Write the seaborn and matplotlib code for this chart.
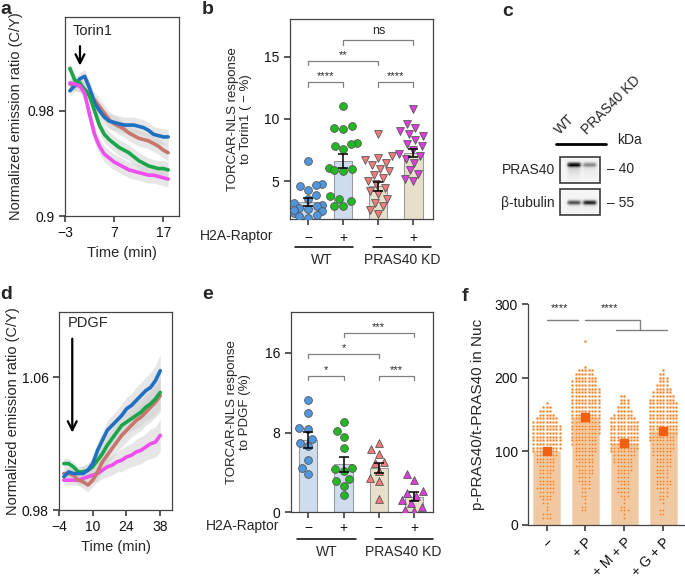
import numpy as np
import pandas as pd
import seaborn as sns
import matplotlib.pyplot as plt
from matplotlib.patches import Rectangle

sns.set_theme(style="ticks")
plt.rcParams['font.family'] = ['Liberation Sans', 'DejaVu Sans']
plt.rcParams['font.size'] = 10
plt.rcParams['axes.edgecolor'] = '#444444'
plt.rcParams['axes.linewidth'] = 0.9
plt.rcParams['xtick.color'] = '#444444'
plt.rcParams['ytick.color'] = '#444444'
plt.rcParams['xtick.labelcolor'] = '#111111'
plt.rcParams['ytick.labelcolor'] = '#111111'
plt.rcParams['xtick.major.size'] = 4
plt.rcParams['ytick.major.size'] = 4
plt.rcParams['xtick.labelsize'] = 10
plt.rcParams['ytick.labelsize'] = 10

C_BLUE, C_GREEN, C_RED, C_MAG = '#1f6fc2', '#1aa54a', '#c8766b', '#ee4fee'

# a) Torin1 time course
a_time = [-2, -1, 0, 1, 2, 3, 4, 5, 6, 7, 8, 9, 10, 11, 12, 13, 14, 15, 16, 17, 18]
a_blue = [0.995, 0.999, 1.004, 1.006, 0.997, 0.986, 0.980, 0.975, 0.972, 0.971, 0.970,
          0.969, 0.969, 0.969, 0.968, 0.967, 0.965, 0.962, 0.961, 0.960, 0.960]
a_red = [1.000, 0.999, 0.999, 0.996, 0.993, 0.988, 0.983, 0.978, 0.973, 0.970, 0.968,
         0.966, 0.963, 0.961, 0.959, 0.958, 0.957, 0.955, 0.953, 0.950, 0.948]
a_green = [1.012, 1.003, 1.001, 0.996, 0.991, 0.980, 0.969, 0.962, 0.958, 0.955, 0.952,
           0.950, 0.948, 0.945, 0.942, 0.940, 0.938, 0.937, 0.936, 0.936, 0.935]
a_mag = [1.001, 1.000, 0.999, 0.993, 0.977, 0.962, 0.953, 0.947, 0.944, 0.941, 0.939,
         0.937, 0.935, 0.934, 0.933, 0.932, 0.931, 0.931, 0.930, 0.929, 0.928]
a_sem = [0.004, 0.004, 0.005, 0.005, 0.005, 0.006, 0.006, 0.006, 0.006, 0.006, 0.006,
         0.006, 0.006, 0.006, 0.006, 0.006, 0.006, 0.006, 0.006, 0.006, 0.006]

# d) PDGF time course
d_time = [-2, 0, 2, 4, 6, 8, 10, 12, 14, 16, 18, 20, 22, 24, 26, 28, 30, 32, 34, 36, 38]
d_blue = [1.000, 1.003, 1.002, 1.002, 1.002, 1.004, 1.008, 1.016, 1.022, 1.028, 1.031,
          1.034, 1.037, 1.041, 1.043, 1.046, 1.049, 1.052, 1.054, 1.058, 1.064]
d_green = [1.008, 1.008, 1.006, 1.003, 1.003, 1.004, 1.006, 1.010, 1.014, 1.019, 1.023,
           1.027, 1.031, 1.033, 1.035, 1.037, 1.039, 1.042, 1.044, 1.047, 1.051]
d_red = [1.002, 1.002, 1.001, 0.998, 0.997, 0.995, 0.998, 1.003, 1.009, 1.013, 1.017,
         1.021, 1.025, 1.028, 1.031, 1.034, 1.036, 1.039, 1.042, 1.045, 1.049]
d_mag = [0.998, 0.998, 0.998, 0.998, 0.999, 1.000, 1.001, 1.002, 1.004, 1.006, 1.007,
         1.009, 1.010, 1.012, 1.013, 1.015, 1.016, 1.018, 1.020, 1.021, 1.025]
d_sem = [0.003, 0.003, 0.003, 0.003, 0.004, 0.004, 0.004, 0.005, 0.005, 0.006, 0.006,
         0.006, 0.007, 0.007, 0.007, 0.008, 0.008, 0.008, 0.009, 0.009, 0.010]

# b) / e) bar + dot panels
conds = ['WT -', 'WT +', 'KD -', 'KD +']
tick_signs = ['\u2212', '+', '\u2212', '+']
bar_cols = ['#c9ddf3', '#c9ddf3', '#ebe3c6', '#ebe3c6']
dot_cols = ['#4f97e0', '#21b821', '#f37b7b', '#e03ce0']

b_pts = [[6.6, 4.8, 4.7, 4.6, 4.3, 3.9, 3.6, 3.3, 3.1, 3.0, 2.9, 2.8, 2.6, 2.5, 2.3, 2.1, 2.2, 2.7],
         [11.0, 9.4, 9.3, 9.2, 8.1, 8.0, 7.8, 7.6, 6.1, 6.0, 5.9, 5.8, 3.8, 3.6, 3.4, 3.0, 3.0],
         [8.8, 7.0, 6.9, 6.7, 6.5, 6.3, 6.0, 5.8, 5.5, 5.3, 5.0, 4.8, 4.5, 4.2, 4.0, 3.6, 3.3, 3.0, 2.7, 2.4],
         [10.8, 9.6, 9.3, 9.0, 8.8, 8.6, 8.3, 8.0, 7.8, 7.5, 7.2, 7.0, 6.8, 6.5, 5.9, 5.6, 5.2, 5.0]]
b_means = [3.35, 6.65, 4.6, 7.27]
b_sem = [0.3, 0.55, 0.35, 0.35]

e_pts = [[11.3, 10.0, 8.5, 8.4, 7.4, 7.0, 6.6, 5.2, 4.4, 3.8],
         [9.1, 8.2, 7.6, 6.4, 4.4, 4.3, 4.1, 3.3, 3.1, 2.6, 1.7],
         [7.0, 6.3, 5.8, 5.0, 4.9, 4.1, 3.4, 3.1, 1.3],
         [3.8, 3.2, 2.1, 1.9, 1.6, 1.2, 0.9, 0.5, 0.2, 0.1]]
e_means = [7.26, 4.82, 4.42, 1.57]
e_sem = [0.8, 0.75, 0.5, 0.45]

# f) nuclear p-PRAS40 (counts of cells per 5-unit level)
f_labels = ['\u2212', '+ P', '+ M + P', '+ G + P']
f_levels = list(range(10, 255, 5))
f_counts = [[3, 3, 1, 1, 2, 3, 4, 5, 6, 5, 5, 4, 4, 5, 5, 6, 6, 7, 8, 9, 9, 9, 9, 9, 9, 9, 8, 7, 5, 4, 3, 1],
            [0, 0, 2, 2, 1, 1, 2, 2, 3, 3, 4, 4, 5, 5, 6, 5, 6, 6, 7, 7, 8, 8, 8, 9, 9, 9, 9, 9, 9, 9,
             9, 9, 9, 9, 9, 9, 8, 8, 7, 6, 5, 1, 0, 0, 0, 0, 0, 0, 1],
            [1, 1, 3, 2, 1, 1, 3, 4, 4, 3, 4, 4, 4, 5, 5, 6, 6, 7, 8, 9, 9, 9, 9, 9, 9, 9, 9, 8, 6, 5, 4, 3, 3, 2],
            [0, 2, 2, 0, 1, 2, 3, 3, 4, 5, 5, 4, 4, 4, 5, 5, 5, 6, 6, 7, 7, 8, 8, 9, 9, 9, 9, 9, 9, 9,
             9, 9, 8, 7, 6, 5, 4, 3, 3, 2, 1]]
f_means = [100, 146, 111, 127]
f_sem = [3, 4, 3, 3]

# c) blot band intensities (WT, PRAS40 KD)
blot_pras40 = [1.0, 0.45]
blot_tubulin = [0.75, 0.95]

W, H = 685, 578
fig = plt.figure(figsize=(W / 100, H / 100), dpi=100)


def add_ax(left, top, right, bottom):
    return fig.add_axes([left / W, 1 - bottom / H, (right - left) / W, (bottom - top) / H])


def time_panel(ax, t, series, sem):
    s = np.array(sem)
    for vals, col in series:
        v = np.array(vals)
        ax.fill_between(t, v - s, v + s, color='#cfcfcf', alpha=0.5, lw=0)
    for vals, col in series:
        sns.lineplot(x=t, y=vals, color=col, linewidth=2.6, ax=ax)
    ax.tick_params(top=False, right=False)


def bracket(ax, x1, x2, y, tip, label, dy, fs=8):
    ax.plot([x1, x1, x2, x2], [y - tip, y, y, y - tip], color='#808080', lw=0.9, clip_on=False)
    ax.text((x1 + x2) / 2, y + dy, label, ha='center', va='bottom', fontsize=fs)


def bar_panel(ax, pts, means, sem, markers):
    sns.barplot(x=conds, y=means, hue=conds, palette=bar_cols, order=conds, legend=False,
                width=0.52, edgecolor='#9a9a9a', linewidth=0.8, ax=ax)
    for k in range(4):
        df = pd.DataFrame({'cond': conds[k], 'val': pts[k]})
        sns.swarmplot(data=df, x='cond', y='val', order=conds, color=dot_cols[k], marker=markers[k],
                      size=5.6, edgecolor='#555555', linewidth=0.6, ax=ax, warn_thresh=1)
    ax.errorbar(range(4), means, yerr=sem, fmt='none', ecolor='black', elinewidth=1.1,
                capsize=3.5, capthick=1.1, zorder=6)
    ax.set_xticks(range(4), tick_signs)
    ax.set_xlabel('')


def group_text(ax, lab_y, raptor_x, line_y, lines, text_y, texts):
    tr = ax.get_xaxis_transform()
    ax.text(raptor_x, lab_y, 'H2A-Raptor', transform=tr, ha='right', va='center', fontsize=10)
    for x1, x2 in lines:
        ax.plot([x1, x2], [line_y, line_y], color='black', lw=1.1, transform=tr, clip_on=False)
    for x, s in texts:
        ax.text(x, text_y, s, transform=tr, ha='center', va='center', fontsize=10)


# ---- panel a
ax_a = add_ax(65, 17, 178.5, 216)
time_panel(ax_a, a_time, [(a_red, C_RED), (a_blue, C_BLUE), (a_green, C_GREEN), (a_mag, C_MAG)], a_sem)
ax_a.set_xlim(-3, 20.1)
ax_a.set_ylim(0.9, 1.051)
ax_a.set_xticks([-3, 7, 17], ['\u22123', '7', '17'])
ax_a.set_yticks([0.9, 0.98], ['0.9', '0.98'])
ax_a.set_xlabel('Time (min)', fontsize=10.5)
ax_a.set_ylabel('Normalized emission ratio (C/Y)', fontsize=10.5)
ax_a.yaxis.set_label_coords(-0.37, 0.5)
ax_a.annotate('', xy=(0.05, 1.012), xytext=(0.05, 1.031),
              arrowprops=dict(arrowstyle='->', lw=1.6, color='black', mutation_scale=16))
ax_a.text(2.6, 1.040, 'Torin1', ha='center', va='center', fontsize=10.5)

# ---- panel d
ax_d = add_ax(59, 311.7, 172.3, 510)
time_panel(ax_d, d_time, [(d_mag, C_MAG), (d_red, C_RED), (d_green, C_GREEN), (d_blue, C_BLUE)], d_sem)
ax_d.set_xlim(-4, 43)
ax_d.set_ylim(0.98, 1.0996)
ax_d.set_xticks([-4, 10, 24, 38], ['\u22124', '10', '24', '38'])
ax_d.set_yticks([0.98, 1.06], ['0.98', '1.06'])
ax_d.set_xlabel('Time (min)', fontsize=10.5)
ax_d.set_ylabel('Normalized emission ratio (C/Y)', fontsize=10.5)
ax_d.yaxis.set_label_coords(-0.345, 0.5)
ax_d.annotate('', xy=(1.5, 1.025), xytext=(1.5, 1.085),
              arrowprops=dict(arrowstyle='->', lw=1.6, color='black', mutation_scale=16))
ax_d.text(8.1, 1.0927, 'PDGF', ha='center', va='center', fontsize=10.5)

# ---- panel b
ax_b = add_ax(290, 19, 432.7, 219)
bar_panel(ax_b, b_pts, b_means, b_sem, ['o', 'o', 'v', 'v'])
ax_b.set_xlim(-0.52, 3.55)
ax_b.set_ylim(2, 18)
ax_b.set_yticks([5, 10, 15])
ax_b.set_ylabel('TORCAR-NLS response\nto Torin1 ( \u2212 %)', fontsize=9.5, linespacing=1.15)
ax_b.yaxis.set_label_coords(-0.265, 0.5)
ax_b.tick_params(axis='x', length=4, pad=5)
bracket(ax_b, 0, 1, 12.95, 0.35, '****', 0.05)
bracket(ax_b, 2, 3, 12.95, 0.35, '****', 0.05)
bracket(ax_b, 0, 2, 14.68, 0.35, '**', 0.05)
bracket(ax_b, 1, 3, 16.3, 0.35, 'ns', 0.25, fs=9)
group_text(ax_b, -0.085, -0.98, -0.14, [(-0.38, 1.28), (1.85, 3.5)], -0.205,
           [(0.39, 'WT'), (2.68, 'PRAS40 KD')])

# ---- panel e
ax_e = add_ax(290.7, 312.3, 433.3, 512.3)
bar_panel(ax_e, e_pts, e_means, e_sem, ['o', 'o', '^', '^'])
ax_e.set_xlim(-0.5, 3.55)
ax_e.set_ylim(0, 20.06)
ax_e.set_yticks([0, 8, 16])
ax_e.set_ylabel('TORCAR-NLS response\nto PDGF (%)', fontsize=9.5, linespacing=1.15)
ax_e.yaxis.set_label_coords(-0.275, 0.5)
ax_e.tick_params(axis='x', length=4, pad=2.5)
bracket(ax_e, 0, 1, 13.7, 0.45, '*', 0.05)
bracket(ax_e, 2, 3, 13.7, 0.45, '***', 0.05)
bracket(ax_e, 0, 2, 15.9, 0.45, '*', 0.05)
bracket(ax_e, 1, 3, 18.0, 0.45, '***', 0.05)
group_text(ax_e, -0.07, -0.82, -0.132, [(-0.32, 1.35), (1.9, 3.55)], -0.2,
           [(0.53, 'WT'), (2.69, 'PRAS40 KD')])

# ---- panel f
ax_f = add_ax(528.3, 304, 685, 525)
sns.barplot(x=f_labels, y=f_means, order=f_labels, color='#fdc995', width=0.69,
            edgecolor='#f3d9b8', linewidth=0.6, ax=ax_f)
rows = []
for k, counts in enumerate(f_counts):
    vals = np.repeat(f_levels[:len(counts)], counts)
    rows.append(pd.DataFrame({'cond': f_labels[k], 'val': vals}))
df_f = pd.concat(rows)
sns.swarmplot(data=df_f, x='cond', y='val', order=f_labels, color='#f47a20', size=1.9,
              edgecolor='#f6dfbf', linewidth=0.35, ax=ax_f, warn_thresh=1)
ax_f.errorbar(range(4), f_means, yerr=f_sem, fmt='s', color='#f06010', ms=5.5,
              elinewidth=1, capsize=0, zorder=6)
ax_f.set_xlim(-0.47, 3.56)
ax_f.set_ylim(0, 300)
ax_f.set_yticks([0, 100, 200, 300])
ax_f.set_xlabel('')
ax_f.set_xticks(range(4))
ax_f.set_xticklabels(f_labels, rotation=45, ha='right', rotation_mode='anchor')
ax_f.set_ylabel('p-PRAS40/t-PRAS40 in Nuc', fontsize=11)
ax_f.yaxis.set_label_coords(-0.274, 0.5)
sns.despine(ax=ax_f)
ax_f.plot([0.0, 0.8], [278, 278], color='#808080', lw=1, clip_on=False)
ax_f.plot([0.98, 2.4, 2.4], [278, 278, 265], color='#808080', lw=1, clip_on=False)
ax_f.plot([1.78, 3.1], [265, 265], color='#808080', lw=1, clip_on=False)
ax_f.text(0.34, 288, '****', ha='center', va='bottom', fontsize=8)
ax_f.text(1.63, 288, '****', ha='center', va='bottom', fontsize=8)

# ---- overlay in pixel coordinates: panel c and panel letters
ov = fig.add_axes([0, 0, 1, 1])
ov.set_axis_off()
ov.patch.set_alpha(0)


def blot_image(levels, row, smear):
    yy, xx = np.mgrid[0:26, 0:40]
    img = np.full(yy.shape, 0.96)
    for k, lv in enumerate(levels):
        lane = np.exp(-((xx - (13 + 16 * k)) / 7.0) ** 6)
        band = np.exp(-((yy - row) / 2.2) ** 2)
        tail = np.where(yy > row, np.exp(-(yy - row) / 6.0), 0) * smear
        img = img - 0.85 * lv * lane * (band + tail)
    return img


for levels, top, row, smear in [(blot_pras40, 157, 7, 0.35), (blot_tubulin, 189, 13, 0.1)]:
    ov.imshow(blot_image(levels, row, smear), cmap='gray', vmin=0, vmax=1, aspect='auto',
              extent=(561, 600, top + 26, top), interpolation='bilinear')
    ov.add_patch(Rectangle((560.5, top), 40, 26, fill=False, edgecolor='#3a3a3a', lw=1.2))
ov.set_xlim(0, W)
ov.set_ylim(H, 0)
ov.plot([556, 606], [144, 144], color='black', lw=2)
ov.text(562, 137, 'WT', rotation=45, rotation_mode='anchor', ha='left', va='bottom', fontsize=10)
ov.text(589, 137, 'PRAS40 KD', rotation=45, rotation_mode='anchor', ha='left', va='bottom', fontsize=10)
ov.text(617, 140, 'kDa', ha='left', va='center', fontsize=10)
ov.text(555, 170, 'PRAS40', ha='right', va='center', fontsize=10)
ov.text(555, 203, '\u03b2-tubulin', ha='right', va='center', fontsize=10)
ov.text(607, 169, '\u2013 40', ha='left', va='center', fontsize=10)
ov.text(607, 203, '\u2013 55', ha='left', va='center', fontsize=10)

for s, x, y in [('a', 0, 1), ('b', 202, 1), ('c', 502, 3), ('d', 0, 286), ('e', 202, 286), ('f', 462, 288)]:
    ov.text(x, y, s, ha='left', va='top', fontsize=14, fontweight='bold')

fig.savefig('out.png', dpi=100)
